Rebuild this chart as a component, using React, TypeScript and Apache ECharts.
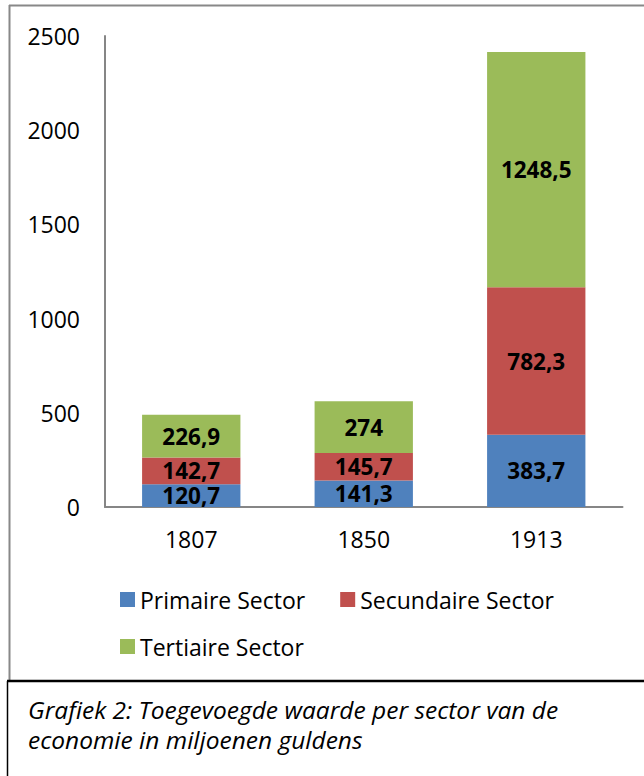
import React, { useEffect, useRef } from "react";
import * as echarts from "echarts";

const categories = ["1807", "1850", "1913"];
const primaire = [120.7, 141.3, 383.7];
const secundaire = [142.7, 145.7, 782.3];
const tertiaire = [226.9, 274, 1248.5];
const seriesNames = ["Primaire Sector", "Secundaire Sector", "Tertiaire Sector"];
const colors = ["#4F81BD", "#C0504D", "#9BBB59"];
const captionLines = [
  "Grafiek 2: Toegevoegde waarde per sector van de",
  "economie in miljoenen guldens",
];

const FONT = "Open Sans";

export default function App() {
  const ref = useRef<HTMLDivElement>(null);
  useEffect(() => {
    if (!ref.current) return;
    const chart = echarts.init(ref.current, null, { renderer: "svg" });
    const dataSets = [primaire, secundaire, tertiaire];
    const legendText = { fontSize: 23, color: "#000", fontFamily: FONT, padding: [0, 0, 0, 0] };
    chart.setOption({
      animation: false,
      backgroundColor: "#ffffff",
      textStyle: { fontFamily: FONT },
      grid: { left: 105, right: 21.5, top: 36, bottom: 269, containLabel: false },
      legend: [
        {
          data: [seriesNames[0], seriesNames[1]],
          left: 115,
          top: 583,
          icon: "rect",
          itemWidth: 15,
          itemHeight: 15,
          itemGap: 35,
          textStyle: legendText,
        },
        {
          data: [seriesNames[2]],
          left: 115,
          top: 630,
          icon: "rect",
          itemWidth: 15,
          itemHeight: 15,
          textStyle: legendText,
        },
      ],
      xAxis: {
        type: "category",
        data: categories,
        axisLine: { lineStyle: { color: "#868686", width: 2 } },
        axisTick: { show: false },
        axisLabel: { fontSize: 23, color: "#000", margin: 20, fontFamily: FONT },
      },
      yAxis: {
        type: "value",
        min: 0,
        max: 2500,
        interval: 500,
        axisLine: { show: true, lineStyle: { color: "#868686", width: 2 } },
        axisTick: { show: false },
        splitLine: { show: false },
        axisLabel: {
          fontSize: 23,
          color: "#000",
          margin: 25,
          fontFamily: FONT,
          formatter: (v: number) => String(v),
        },
      },
      series: seriesNames.map((name, i) => ({
        name,
        type: "bar",
        stack: "total",
        barWidth: "57%",
        data: dataSets[i],
        itemStyle: { color: colors[i] },
        label: {
          show: true,
          position: "inside",
          color: "#000",
          fontWeight: "bold",
          fontSize: 22.5,
          lineHeight: 21,
          fontFamily: FONT,
          formatter: (p: any) => String(p.value).replace(".", ","),
        },
      })),
      graphic: [
        {
          type: "line",
          shape: { x1: 9, y1: 5.5, x2: 644, y2: 5.5 },
          style: { stroke: "#888888", lineWidth: 2 },
          silent: true,
        },
        {
          type: "line",
          shape: { x1: 9.5, y1: 5, x2: 9.5, y2: 681 },
          style: { stroke: "#888888", lineWidth: 2 },
          silent: true,
        },
        {
          type: "line",
          shape: { x1: 7, y1: 681, x2: 644, y2: 681 },
          style: { stroke: "#000000", lineWidth: 2.5 },
          silent: true,
        },
        {
          type: "line",
          shape: { x1: 7.5, y1: 681, x2: 7.5, y2: 776 },
          style: { stroke: "#000000", lineWidth: 1.5 },
          silent: true,
        },
        ...captionLines.map((t, i) => ({
          type: "text",
          x: 28,
          y: 709 + i * 30,
          silent: true,
          style: {
            text: t,
            fill: "#000",
            fontSize: 24.5,
            fontStyle: "italic",
            fontFamily: FONT,
            verticalAlign: "middle",
            align: "left",
          },
        })),
      ],
    });
    return () => chart.dispose();
  }, []);
  return (
    <div
      ref={ref}
      style={{ position: "absolute", left: 0, top: 0, width: 644, height: 776 }}
    />
  );
}
